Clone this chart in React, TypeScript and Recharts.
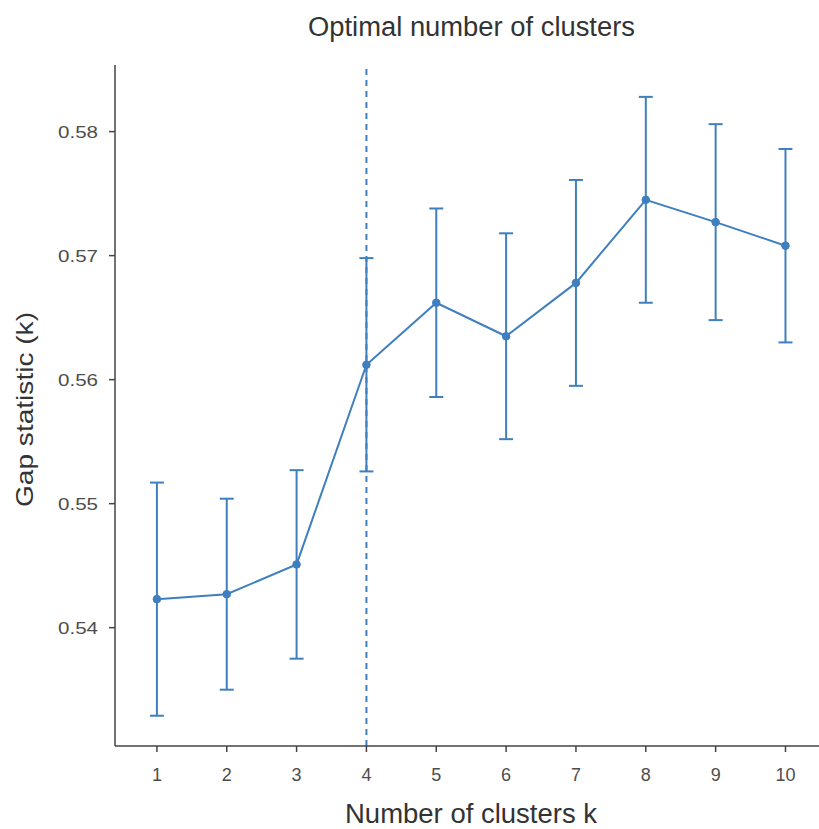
import React from "react";
import { ComposedChart, Line, XAxis, YAxis, ErrorBar, ReferenceLine } from "recharts";

const clusters = [1, 2, 3, 4, 5, 6, 7, 8, 9, 10];
const gap = [0.5423, 0.5427, 0.5451, 0.5612, 0.5662, 0.5635, 0.5678, 0.5745, 0.5727, 0.5708];
const se = [0.0094, 0.0077, 0.0076, 0.0086, 0.0076, 0.0083, 0.0083, 0.0083, 0.0079, 0.0078];
const yTicks = [0.54, 0.55, 0.56, 0.57, 0.58];
const optimalK = 4;

const title = "Optimal number of clusters";
const xLabel = "Number of clusters k";
const yLabel = "Gap statistic (k)";

const data = clusters.map((k, i) => ({ k, gap: gap[i], se: se[i] }));

const BLUE = "#3F7FBF";
const FONT = "'Liberation Sans', Arial, sans-serif";

const YTick = (props: any) => {
  const { x, y, payload } = props;
  return (
    <text x={x} y={y} dy={6} textAnchor="end" fontSize={17} fill="#4d4d4d" fontFamily={FONT} textLength={40} lengthAdjust="spacingAndGlyphs">
      {Number(payload.value).toFixed(2)}
    </text>
  );
};

const XTick = (props: any) => {
  const { x, y, payload } = props;
  return (
    <text x={x} y={y} dy={13} textAnchor="middle" fontSize={18} fill="#4d4d4d" fontFamily={FONT}>
      {payload.value}
    </text>
  );
};

export default function App() {
  return (
    <div style={{ position: "absolute", left: 0, top: 0, width: 819, height: 829, background: "#fff", fontFamily: FONT }}>
      <ComposedChart width={819} height={829} data={data} margin={{ top: 65, right: 0, bottom: 0, left: 0 }}>
        <XAxis
          dataKey="k"
          type="number"
          domain={[0.4, 10.48]}
          ticks={clusters}
          allowDataOverflow
          height={83}
          tickSize={6}
          tickMargin={16}
          stroke="#444"
          strokeWidth={1.5}
          tick={<XTick />}
        />
        <YAxis
          type="number"
          domain={[0.53046, 0.58537]}
          ticks={yTicks}
          allowDataOverflow
          width={115}
          tickSize={6}
          tickMargin={11}
          stroke="#444"
          strokeWidth={1.5}
          tick={<YTick />}
        />
        <ReferenceLine x={optimalK} stroke={BLUE} strokeWidth={2} strokeDasharray="6 5" />
        <Line
          dataKey="gap"
          stroke={BLUE}
          strokeWidth={2}
          dot={{ r: 3.8, fill: BLUE, stroke: BLUE, strokeWidth: 1 }}
          isAnimationActive={false}
        >
          <ErrorBar dataKey="se" width={7} stroke={BLUE} strokeWidth={2} direction="y" isAnimationActive={false} />
        </Line>
      </ComposedChart>
      <svg width={819} height={829} style={{ position: "absolute", left: 0, top: 0, pointerEvents: "none" }}>
        <text x={471.5} y={36} textAnchor="middle" fontSize={27} fill="#333" fontFamily={FONT} textLength={327} lengthAdjust="spacingAndGlyphs">
          {title}
        </text>
        <text x={471} y={823} textAnchor="middle" fontSize={27} fill="#333" fontFamily={FONT} textLength={252} lengthAdjust="spacingAndGlyphs">
          {xLabel}
        </text>
        <text x={33} y={409.5} textAnchor="middle" fontSize={24} fill="#333" fontFamily={FONT} transform="rotate(-90, 33, 409.5)" textLength={195} lengthAdjust="spacingAndGlyphs">
          {yLabel}
        </text>
      </svg>
    </div>
  );
}
